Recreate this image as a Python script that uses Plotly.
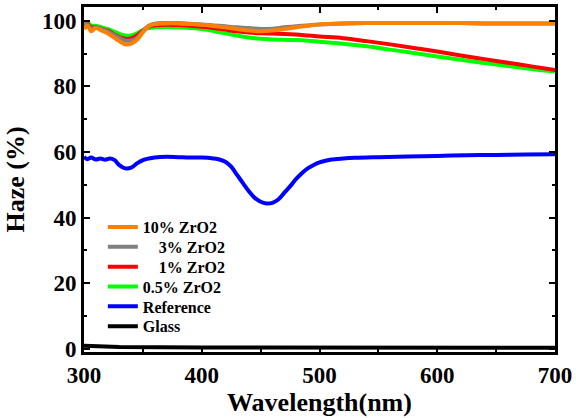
import plotly.graph_objects as go

# ---- data ----
wl = [300, 303, 306, 310, 315, 320, 325, 330, 335, 340, 345, 350, 355, 360,
      370, 380, 390, 400, 410, 420, 430, 440, 450, 460, 470, 480, 490, 500,
      520, 540, 560, 580, 600, 620, 640, 660, 680, 700]

zr10 = [97.5, 98.5, 96.8, 97.8, 97.0, 96.2, 95.0, 93.8, 92.8, 93.0, 94.2, 96.5, 98.3, 99.0,
        99.2, 99.2, 99.0, 98.8, 98.4, 98.0, 97.5, 97.0, 96.8, 97.0, 97.5, 98.0, 98.5, 98.9,
        99.2, 99.3, 99.3, 99.3, 99.3, 99.3, 99.2, 99.2, 99.2, 99.2]
zr3 = [99.0, 98.8, 97.5, 98.0, 97.5, 96.8, 95.8, 94.8, 94.0, 94.0, 94.8, 96.8, 98.5, 99.1,
       99.3, 99.3, 99.1, 98.9, 98.6, 98.3, 98.0, 97.8, 97.5, 97.6, 98.0, 98.3, 98.6, 98.9,
       99.2, 99.3, 99.3, 99.3, 99.3, 99.3, 99.2, 99.2, 99.2, 99.2]
zr1 = [98.5, 99.0, 98.0, 98.0, 97.5, 97.0, 96.0, 95.0, 94.5, 94.6, 95.5, 97.0, 98.2, 98.6,
       98.8, 98.7, 98.5, 98.2, 97.8, 97.3, 96.8, 96.4, 96.2, 96.1, 96.0, 95.8, 95.5, 95.2,
       94.7, 93.8, 92.8, 91.7, 90.6, 89.4, 88.3, 87.2, 86.1, 85.0]
zr05 = [99.2, 99.5, 98.5, 98.5, 98.0, 97.5, 96.8, 96.0, 95.5, 95.5, 96.2, 97.2, 97.8, 98.0,
        98.1, 98.0, 97.8, 97.5, 96.9, 96.2, 95.5, 94.9, 94.5, 94.3, 94.2, 94.1, 93.9, 93.6,
        93.0, 92.2, 91.2, 90.2, 89.1, 88.1, 87.1, 86.2, 85.3, 84.5]

wl_ref = [300, 303, 306, 310, 314, 318, 322, 326, 330, 335, 340, 345, 350, 355, 360, 370,
          380, 390, 400, 410, 415, 420, 425, 430, 435, 440, 445, 450, 455, 460, 465, 470,
          475, 480, 485, 490, 495, 500, 505, 510, 520, 530, 550, 575, 600, 625, 650, 675, 700]
ref = [58.5, 57.8, 58.3, 57.7, 58.0, 57.6, 58.0, 57.5, 56.0, 55.0, 55.2, 56.5, 57.5, 58.0,
       58.3, 58.5, 58.4, 58.3, 58.3, 58.0, 57.7, 57.0, 55.5, 53.0, 50.5, 48.0, 46.0, 44.8,
       44.3, 44.5, 45.5, 47.5, 49.5, 51.7, 53.5, 55.0, 56.0, 56.8, 57.3, 57.7, 58.0, 58.2,
       58.4, 58.6, 58.8, 59.0, 59.1, 59.2, 59.3]

wl_glass = [300, 310, 330, 400, 500, 600, 700]
glass = [0.9, 0.7, 0.5, 0.4, 0.3, 0.3, 0.3]

x_ticks = [300, 400, 500, 600, 700]
y_ticks = [0, 20, 40, 60, 80, 100]

FONT = "Liberation Serif"
LW = 4

# drawing order (bottom to top) and legend slot (1 = top entry)
series = [
    ("Glass", wl_glass, glass, "#000000", "linear", 6),
    ("Reference", wl_ref, ref, "#0000FF", "spline", 5),
    ("0.5% ZrO2", wl, zr05, "#00FF00", "spline", 4),
    ("\u2007\u20071% ZrO2", wl, zr1, "#FF0000", "spline", 3),
    ("\u2007\u20073% ZrO2", wl, zr3, "#808080", "spline", 2),
    ("10% ZrO2", wl, zr10, "#FF8000", "spline", 1),
]

fig = go.Figure()
legend_layout = {}
for name, xs, ys, color, shape, slot in series:
    key = "legend" if slot == 1 else f"legend{slot}"
    fig.add_trace(go.Scatter(x=xs, y=ys, name=f"<b>{name}</b>", mode="lines",
                             line=dict(color=color, width=LW, shape=shape),
                             legend=key))
    legend_layout[key] = dict(
        x=0.04, y=0.362 - (slot - 1) * 0.0575, xanchor="left", yanchor="middle",
        bgcolor="rgba(0,0,0,0)", itemwidth=30,
        font=dict(family=FONT, size=16, color="black", weight="bold"),
    )

axis_common = dict(
    showline=True, linecolor="black", linewidth=3, mirror="ticks",
    ticks="inside", ticklen=6, tickwidth=2, tickcolor="black",
    showgrid=False, zeroline=False,
    tickfont=dict(family=FONT, size=23, color="black", weight="bold"),
)

fig.update_xaxes(range=[300, 700], tickvals=x_ticks,
                 minor=dict(dtick=50, ticks="inside", ticklen=3, tickwidth=2, tickcolor="black"),
                 title=dict(text="Wavelength(nm)", standoff=0,
                            font=dict(family=FONT, size=26, color="black", weight="bold")),
                 **axis_common)
fig.update_yaxes(range=[-1, 104.2], tickvals=y_ticks,
                 minor=dict(dtick=10, ticks="inside", ticklen=3, tickwidth=2, tickcolor="black"),
                 title=dict(text="Haze (%)", standoff=10,
                            font=dict(family=FONT, size=26, color="black", weight="bold")),
                 **axis_common)

fig.update_layout(
    width=576, height=418,
    margin=dict(l=84, r=19, t=4, b=66),
    plot_bgcolor="white", paper_bgcolor="white",
    showlegend=True,
    **legend_layout,
)

fig.write_html("out.html")
